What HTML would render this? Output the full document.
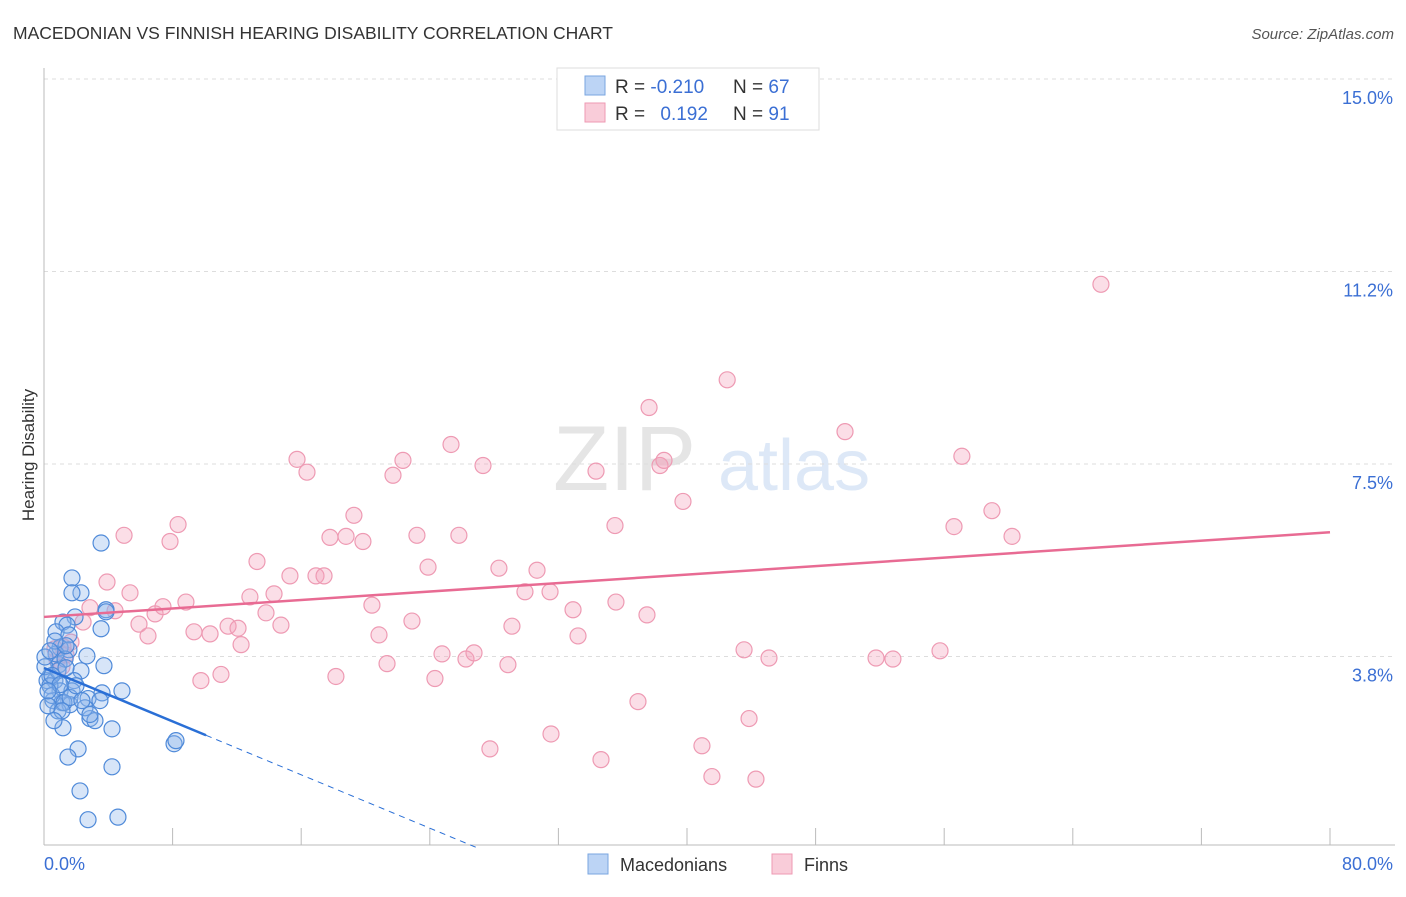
<!DOCTYPE html>
<html><head><meta charset="utf-8"><style>
body{margin:0;background:#fff;font-family:"Liberation Sans",sans-serif;}
svg text{font-family:"Liberation Sans",sans-serif;}
</style></head><body>
<svg id="chart" width="1406" height="892" viewBox="0 0 1406 892" xmlns="http://www.w3.org/2000/svg">
<text x="13" y="39" font-size="17.5" fill="#333">MACEDONIAN VS FINNISH HEARING DISABILITY CORRELATION CHART</text>
<text x="1394" y="39" font-size="15" fill="#555" font-style="italic" text-anchor="end">Source: ZipAtlas.com</text>
<g opacity="0.25">
<text x="553" y="490" font-size="92" font-family="Liberation Serif" fill="#999">ZIP</text>
<text x="718" y="490" font-size="72" fill="#7aa6e0">atlas</text>
</g>
<g id="grid"></g>
<g id="axes"></g>
<g id="marks"></g>
<text transform="translate(34,455) rotate(-90)" font-size="17" fill="#333" text-anchor="middle">Hearing Disability</text>
<g>
<rect x="557" y="68" width="262" height="62" fill="#fff" stroke="#ddd"/>
<rect x="585" y="76" width="20" height="19" fill="#bcd4f5" stroke="#7aa6e0"/>
<rect x="585" y="103" width="20" height="19" fill="#f9ccd9" stroke="#ee9ab3"/>
<text x="615" y="93" font-size="19" fill="#333">R = <tspan fill="#3b6fd4">-0.210</tspan></text>
<text x="733" y="93" font-size="19" fill="#333">N = <tspan fill="#3b6fd4">67</tspan></text>
<text x="615" y="120" font-size="19" fill="#333">R = <tspan fill="#3b6fd4" dx="10">0.192</tspan></text>
<text x="733" y="120" font-size="19" fill="#333">N = <tspan fill="#3b6fd4">91</tspan></text>
</g>
<g>
<rect x="588" y="854" width="20" height="20" fill="#bcd4f5" stroke="#7aa6e0"/>
<text x="620" y="871" font-size="18" fill="#333">Macedonians</text>
<rect x="772" y="854" width="20" height="20" fill="#f9ccd9" stroke="#ee9ab3"/>
<text x="804" y="871" font-size="18" fill="#333">Finns</text>
</g>
</svg>
<script>
const yTicks=[15.0,11.25,7.5,3.75];
const yTickLabels=["15.0%","11.2%","7.5%","3.8%"];
const xTickLabels=["0.0%","80.0%"];
const blueX=[3.55,1.74,2.3,1.74,3.86,1.93,1.18,1.43,3.55,0.75,1.55,2.67,1.0,1.55,0.93,2.3,3.73,0.37,0.68,1.87,1.0,1.74,2.74,3.61,4.85,0.56,1.12,1.62,0.87,2.86,3.17,4.23,1.18,2.12,1.49,4.23,2.24,2.74,4.6,8.09,8.21,0.19,0.37,0.5,0.25,0.75,1.31,0.87,0.06,1.24,1.62,2.55,0.5,1.0,1.37,0.68,0.25,3.48,2.86,3.86,0.06,1.12,1.99,2.36,0.62,1.37,0.37];
const blueY=[5.96,5.28,4.99,4.99,4.66,4.52,4.42,4.36,4.29,4.23,4.17,3.76,3.92,3.88,3.59,3.47,3.57,3.36,3.28,3.28,3.08,3.08,2.93,3.04,3.08,2.89,2.85,2.81,2.69,2.54,2.5,2.34,2.36,1.95,1.79,1.6,1.13,0.57,0.62,2.05,2.11,3.28,3.18,2.99,2.79,3.8,3.7,3.47,3.55,2.85,2.95,2.75,3.38,3.2,3.96,4.05,3.08,2.89,2.62,4.62,3.74,2.69,3.18,2.89,2.5,3.53,3.86];
const pinkX=[65.75,42.5,37.64,49.83,25.32,15.74,16.36,22.33,27.31,21.71,34.34,38.32,38.57,57.1,39.75,19.28,8.34,4.98,7.84,17.79,18.79,19.84,23.2,25.81,35.52,56.61,58.97,60.22,13.25,15.3,16.92,17.42,23.89,28.3,30.67,3.92,5.35,12.81,14.31,29.92,31.48,20.4,32.91,35.58,2.86,4.42,6.91,7.4,8.83,13.81,37.51,2.43,5.91,9.33,10.33,11.45,12.07,14.74,22.89,29.11,6.47,12.26,20.84,33.22,1.68,1.18,0.81,1.12,1.37,0.68,24.76,26.25,26.75,21.34,28.86,43.55,45.1,51.76,52.81,55.74,18.16,11.01,9.76,24.32,36.95,43.86,31.54,27.74,40.93,34.65,41.55,44.29];
const pinkY=[11.0,9.14,8.6,8.13,7.88,7.59,7.34,7.57,7.47,7.28,7.36,7.47,7.57,7.65,6.77,6.5,6.32,6.11,5.99,6.07,6.09,5.99,6.11,6.11,6.3,6.28,6.59,6.09,5.6,5.32,5.32,5.32,5.49,5.47,5.43,5.2,4.99,4.91,4.97,5.01,5.01,4.75,4.66,4.81,4.7,4.64,4.58,4.72,4.81,4.6,4.56,4.42,4.38,4.23,4.19,4.34,4.3,4.36,4.44,4.34,4.15,3.98,4.17,4.15,4.03,3.94,3.68,3.55,3.78,3.9,3.8,3.7,3.82,3.61,3.59,3.88,3.72,3.72,3.7,3.86,3.36,3.4,3.28,3.32,2.87,2.54,2.24,1.95,2.01,1.74,1.41,1.36];
const blueLine=[3.525,-0.13];const blueSolidEnd=10.08;const blueDashEnd=27;
const pinkLine=[4.52,6.17];
const X0=44,X1=1330,Ytop=79,PPY=51.33,Ybase=845;
const x=v=>X0+v*(X1-X0)/80;
const y=v=>Ytop+(15-v)*PPY;
const NS="http://www.w3.org/2000/svg";
function mk(t,p,a){const e=document.createElementNS(NS,t);for(const k in a)e.setAttribute(k,a[k]);p.appendChild(e);return e;}
const grid=document.getElementById('grid'),axes=document.getElementById('axes'),marks=document.getElementById('marks');
yTicks.forEach((t,i)=>{
 const l=mk('line',grid,{x1:44,x2:1395,y1:y(t),y2:y(t),stroke:'#ddd','stroke-dasharray':'4,4'});
 
 
 const tx=mk('text',axes,{x:1393,y:y(t)+25,'font-size':18,fill:'#3b6fd4','text-anchor':'end'});
 tx.textContent=yTickLabels[i];
 
 
});
mk('line',axes,{x1:44,x2:44,y1:68,y2:Ybase,stroke:'#bbb'});
mk('line',axes,{x1:44,x2:1395,y1:Ybase,y2:Ybase,stroke:'#bbb'});
for(let i=0;i<=10;i++){const t=mk('line',axes,{x1:x(i*8),x2:x(i*8),y1:Ybase-17,y2:Ybase,stroke:'#bbb'});
 
 }
const xl0=mk('text',axes,{x:44,y:870,'font-size':18,fill:'#3b6fd4'});xl0.textContent=xTickLabels[0];


const xl1=mk('text',axes,{x:1393,y:870,'font-size':18,fill:'#3b6fd4','text-anchor':'end'});xl1.textContent=xTickLabels[1];


pinkX.forEach((v,i)=>{const c=mk('circle',marks,{cx:x(v),cy:y(pinkY[i]),r:8,fill:'rgba(244,160,186,0.35)',stroke:'#ee9ab3','stroke-width':1.2});
 
 });
blueX.forEach((v,i)=>{const c=mk('circle',marks,{cx:x(v),cy:y(blueY[i]),r:8,fill:'rgba(140,180,235,0.35)',stroke:'#4f8ad9','stroke-width':1.2});
 
 });
const pl=mk('line',marks,{x1:x(0),y1:y(pinkLine[0]),x2:x(80),y2:y(pinkLine[1]),stroke:'#e86b93','stroke-width':2.5});


const bl=mk('line',marks,{x1:x(0),y1:y(blueLine[0]),x2:x(blueSolidEnd),y2:y(blueLine[0]+blueLine[1]*blueSolidEnd),stroke:'#2a6fd6','stroke-width':2.5});


const bd=mk('line',marks,{x1:x(blueSolidEnd),y1:y(blueLine[0]+blueLine[1]*blueSolidEnd),x2:x(blueDashEnd),y2:y(blueLine[0]+blueLine[1]*blueDashEnd),stroke:'#2a6fd6','stroke-width':1,'stroke-dasharray':'6,5'});


</script>
</body></html>
